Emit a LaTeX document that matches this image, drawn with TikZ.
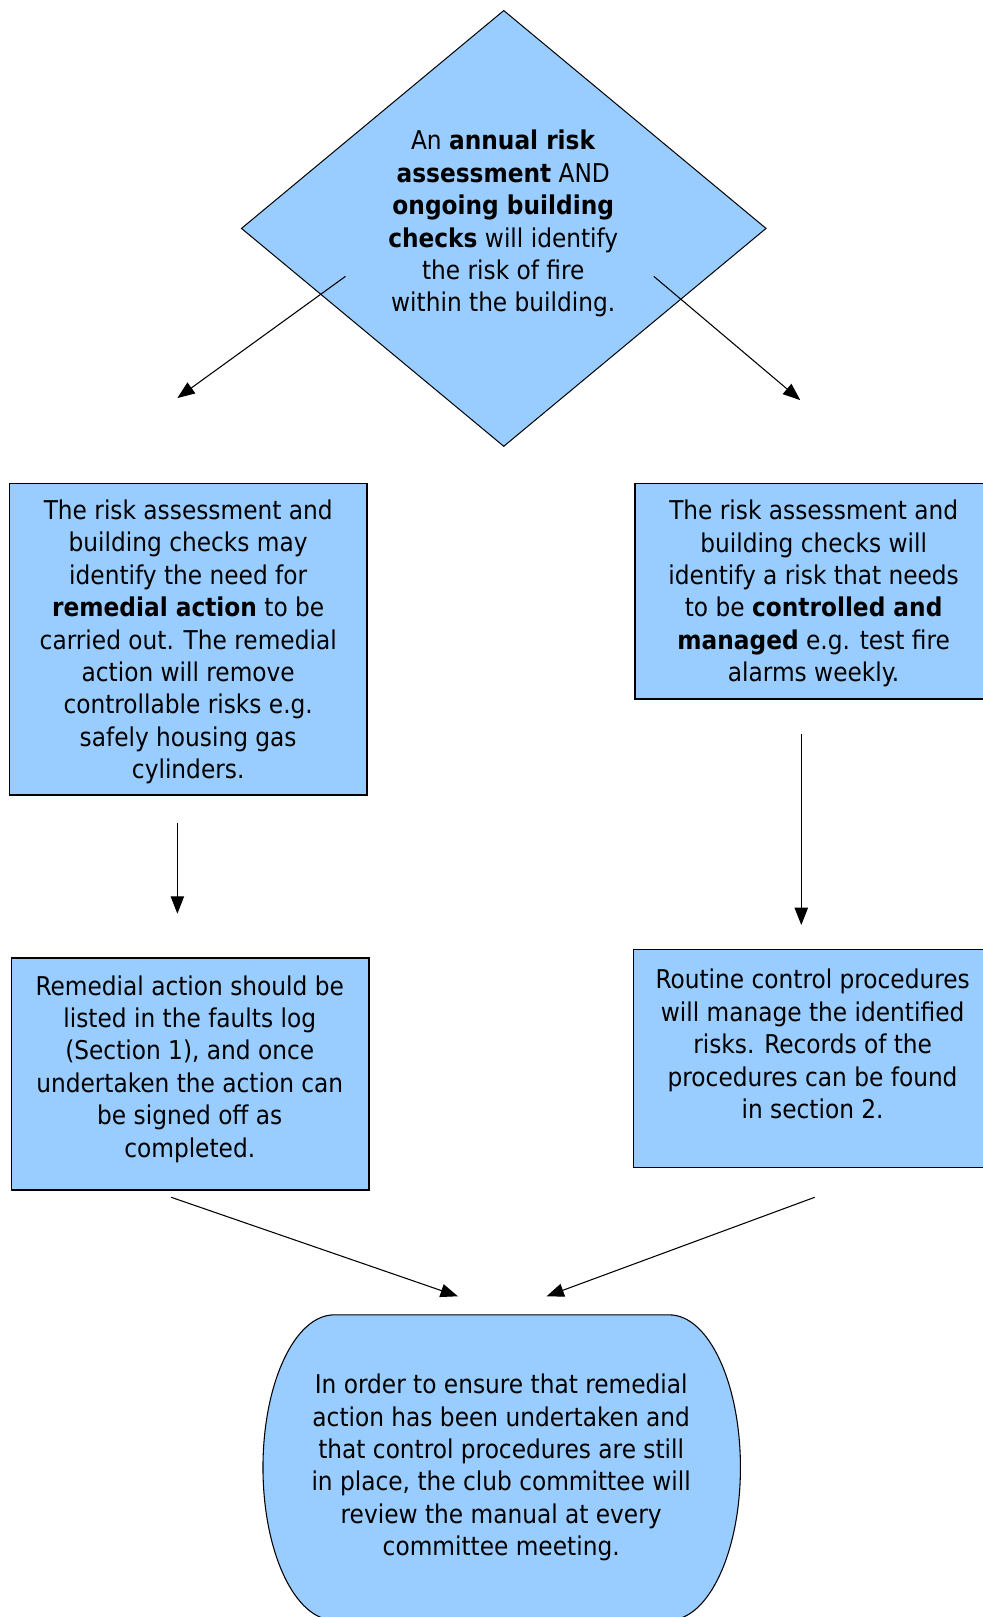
\documentclass[tikz,border=0pt]{standalone}
\usepackage{fontspec}
\setmainfont{DejaVu Sans Condensed}
\usetikzlibrary{shapes.geometric,arrows.meta}
\definecolor{boxblue}{HTML}{99CCFF}

\begin{document}
\begin{tikzpicture}[x=0.7734pt,y=-0.7734pt,
    box/.style={draw,line width=1pt,fill=boxblue,minimum width=268pt,inner sep=0pt},
    txt/.style={align=center,font=\fontsize{19.4}{24.3}\selectfont,inner sep=0pt},
    arr/.style={-{Triangle[length=13pt,width=10pt]},line width=0.8pt}]
    \useasboundingbox (0,0) rectangle (953,1568);
    \clip (0,0) rectangle (953,1568);

    % decision at the top
    \node[diamond,draw,line width=0.75pt,fill=boxblue,minimum width=393.7pt,minimum height=327.1pt,inner sep=0pt] (check) at (488.5,221.5) {};
    \node[txt] (check-t) at (488,217) {An \textbf{annual risk}\\\textbf{assessment} AND\\\textbf{ongoing building}\\\textbf{checks} will identify\\the risk of fire\\within the building.};

    % two outcomes
    \node[box,minimum height=233.6pt] (remedial) at (182.5,620) {};
    \node[txt] (remedial-t) at (182.5,622.5) {The risk assessment and\\building checks may\\identify the need for\\\textbf{remedial action} to be\\carried out. The remedial\\action will remove\\controllable risks e.g.\\safely housing gas\\cylinders.};
    \node[box,minimum height=161.6pt] (control) at (789,573.5) {};
    \node[txt] (control-t) at (789,575.5) {The risk assessment and\\building checks will\\identify a risk that needs\\to be \textbf{controlled and}\\\textbf{managed} e.g. test fire\\alarms weekly.};

    % follow-up
    \node[box,minimum height=174pt] (faults) at (184.5,1041.5) {};
    \node[txt] (faults-t) at (184,1036.5) {Remedial action should be\\listed in the faults log\\(Section 1), and once\\undertaken the action can\\be signed off as\\completed.};
    \node[box,minimum height=163.2pt] (routine) at (787.5,1026.5) {};
    \node[txt] (routine-t) at (788,1012.5) {Routine control procedures\\will manage the identified\\risks. Records of the\\procedures can be found\\in section 2.};

    % committee review (flat top, elliptic sides)
    \draw[line width=0.8pt,fill=boxblue] (324,1275) -- (649,1275)
        arc[start angle=-90,end angle=90,x radius=69,y radius=148]
        -- (324,1571) arc[start angle=90,end angle=270,x radius=69,y radius=148] -- cycle;
    \node[txt] (review) at (486,1423) {In order to ensure that remedial\\action has been undertaken and\\that control procedures are still\\in place, the club committee will\\review the manual at every\\committee meeting.};

    % arrow ends
    \coordinate (check-l) at (335,268);
    \coordinate (check-r) at (634,268);
    \coordinate (remedial-in) at (172,386);
    \coordinate (control-in) at (776,388);
    \coordinate (remedial-out) at (172,798);
    \coordinate (faults-in) at (172,886);
    \coordinate (control-out) at (777,712);
    \coordinate (routine-in) at (777,897);
    \coordinate (faults-out) at (166,1161);
    \coordinate (routine-out) at (790,1161);
    \coordinate (review-l) at (444,1257);
    \coordinate (review-r) at (530,1257);

    \draw[arr] (check-l) -- (remedial-in);
    \draw[arr] (check-r) -- (control-in);
    \draw[arr] (remedial-out) -- (faults-in);
    \draw[arr] (control-out) -- (routine-in);
    \draw[arr] (faults-out) -- (review-l);
    \draw[arr] (routine-out) -- (review-r);
\end{tikzpicture}
\end{document}
